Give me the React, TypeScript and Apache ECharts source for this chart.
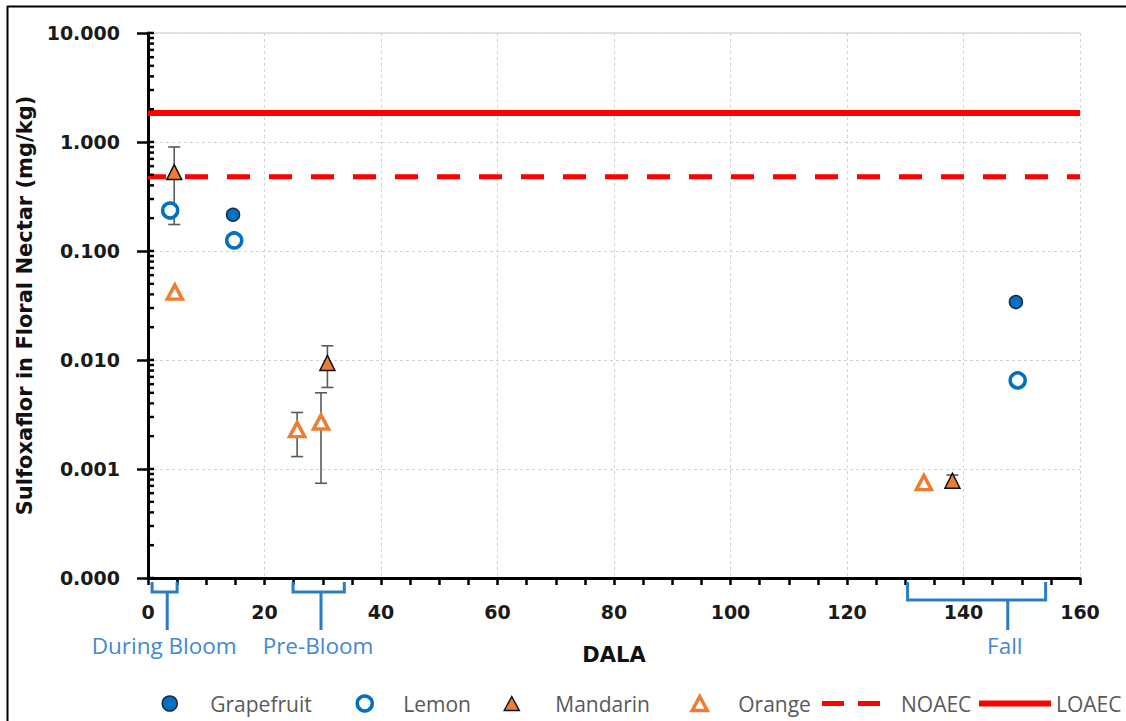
import React, { useEffect, useRef } from "react";
import * as echarts from "echarts";

// ---------- data ----------
const grapefruitX = [14.6, 149.0];
const grapefruitY = [0.215, 0.034];

const lemonX = [3.8, 14.8, 149.3];
const lemonY = [0.235, 0.125, 0.0065];

const mandarinX = [4.5, 30.8, 138.1];
const mandarinY = [0.53, 0.0094, 0.00078];
const mandarinLow = [0.175, 0.0056, 0.00069];
const mandarinHigh = [0.9, 0.0135, 0.00088];

const orangeX = [4.6, 25.6, 29.7, 133.2];
const orangeY = [0.042, 0.0023, 0.0027, 0.00075];
const orangeLow: (number | null)[] = [null, 0.0013, 0.00074, null];
const orangeHigh: (number | null)[] = [null, 0.0033, 0.005, null];

const noaecValue = 0.48;
const loaecValue = 1.85;

const xMin = 0;
const xMax = 160;
const xStep = 20;
const yMin = 0.0001;
const yMax = 10;

// log minor tick positions (decade start × factor)
const decades = [0.0001, 0.001, 0.01, 0.1, 1];
const minorFactors = [1, 2, 3, 4, 5, 6, 7, 8, 9];

// period annotations under the x axis (in DALA units)
const periodLabels = ["During Bloom", "Pre-Bloom", "Fall"];
const periodStart = [0.7, 24.9, 130.4];
const periodStem = [3.3, 29.7, 147.6];
const periodEnd = [5.0, 33.7, 154.1];

// ---------- styles ----------
const bracketDepth = [10, 10, 18];
const BLUE = "#0070C0";
const ORANGE = "#ED7D31";
const RED = "#FF0000";
const GRID = "#d6cfd6";
const BRACKET = "#2a7cc9";
const BRACKET_TEXT = "#3f8ad3";
const LABEL_FONT = "DejaVu Sans";

export default function App() {
  const ref = useRef<HTMLDivElement>(null);

  useEffect(() => {
    if (!ref.current) return;
    const chart = echarts.init(ref.current, undefined, { renderer: "svg" });

    const errData: number[][] = [];
    mandarinX.forEach((x, i) => errData.push([x, mandarinLow[i], mandarinHigh[i]]));
    orangeX.forEach((x, i) => {
      const lo = orangeLow[i];
      const hi = orangeHigh[i];
      if (lo != null && hi != null) errData.push([x, lo, hi]);
    });

    const minorData: number[][] = [];
    decades.forEach((d) => minorFactors.forEach((f) => minorData.push([xMin, d * f])));
    minorData.push([xMin, yMax]);

    const periodData = periodLabels.map((_, i) => [periodStart[i], yMin, periodStem[i], periodEnd[i], i]);

    const mkLegend = (
      name: string,
      left: number,
      width: number,
      height: number,
      padLeft: number,
      extra: any = {}
    ) => ({
      data: [name],
      left,
      top: 693,
      padding: 0,
      itemWidth: width,
      itemHeight: height,
      itemGap: 0,
      textStyle: {
        fontFamily: "Open Sans",
        fontSize: 21,
        color: "#595959",
        padding: [0, 0, 0, padLeft],
      },
      selectedMode: false,
      ...extra,
    });

    const option: any = {
      animation: false,
      backgroundColor: "#ffffff",
      grid: { left: 148, right: 46, top: 33, bottom: 143, containLabel: false },
      legend: [
        mkLegend("Grapefruit", 161.5, 15, 15, 28, {
          itemStyle: { color: BLUE, borderColor: "#1c2b45", borderWidth: 1.5 },
        }),
        mkLegend("Lemon", 355.5, 15, 15, 26, {
          itemStyle: { color: "#ffffff", borderColor: BLUE, borderWidth: 3.5 },
        }),
        mkLegend("Mandarin", 503.5, 15, 14, 31, {
          icon: "triangle",
          itemStyle: { color: ORANGE, borderColor: "#111", borderWidth: 1.5 },
        }),
        mkLegend("Orange", 690.5, 15, 14, 26, {
          icon: "triangle",
          itemStyle: { color: "#ffffff", borderColor: ORANGE, borderWidth: 3.5 },
        }),
        mkLegend("NOAEC", 822, 58, 5, 16, {
          icon: "path://M0,0H22V5H0Z M36,0H58V5H36Z",
          symbolKeepAspect: false,
          itemStyle: { borderWidth: 0, color: RED },
        }),
        mkLegend("LOAEC", 979, 72, 6, 0, {
          icon: "path://M0,0H72V6H0Z",
          symbolKeepAspect: false,
          itemStyle: { borderWidth: 0, color: RED },
        }),
      ],
      graphic: [
        { type: "line", shape: { x1: 7, y1: 6.5, x2: 1126, y2: 6.5 }, style: { stroke: "#000", lineWidth: 2 } },
        { type: "line", shape: { x1: 7.5, y1: 6, x2: 7.5, y2: 721 }, style: { stroke: "#000", lineWidth: 2 } },
      ],
      xAxis: [
        {
          type: "value",
          min: xMin,
          max: xMax,
          interval: xStep,
          name: "DALA",
          nameLocation: "middle",
          nameGap: 66,
          nameTextStyle: { fontFamily: LABEL_FONT, fontWeight: "bold", fontSize: 21, color: "#111" },
          axisLine: { show: true, onZero: false, lineStyle: { color: "#000", width: 3 } },
          axisTick: { show: true, length: 7, lineStyle: { color: "#000", width: 2.5 } },
          minorTick: { show: true, splitNumber: 4, length: 7, lineStyle: { color: "#000", width: 2.5 } },
          axisLabel: { margin: 24, fontFamily: LABEL_FONT, fontWeight: "bold", fontSize: 19, color: "#1a1a1a" },
          splitLine: { show: true, lineStyle: { color: GRID, type: [3, 3], width: 1 } },
        },
        {
          type: "value",
          position: "top",
          min: xMin,
          max: xMax,
          interval: xStep,
          axisLine: { show: true, onZero: false, lineStyle: { color: "#d9d9d9", width: 1.5 } },
          axisTick: { show: false },
          axisLabel: { show: false },
          splitLine: { show: false },
        },
      ],
      yAxis: {
        type: "log",
        logBase: 10,
        min: yMin,
        max: yMax,
        name: "Sulfoxaflor in Floral Nectar (mg/kg)",
        nameLocation: "middle",
        nameGap: 108,
        nameTextStyle: { fontFamily: LABEL_FONT, fontWeight: "bold", fontSize: 21, color: "#111" },
        axisLine: { show: true, onZero: false, lineStyle: { color: "#000", width: 3 } },
        axisTick: { show: true, length: 11, lineStyle: { color: "#000", width: 2.5 } },
        axisLabel: {
          margin: 28,
          fontFamily: LABEL_FONT,
          fontWeight: "bold",
          fontSize: 19,
          color: "#1a1a1a",
          formatter: (v: number) => v.toFixed(3),
        },
        splitLine: { show: true, lineStyle: { color: GRID, type: [3, 3], width: 1 } },
      },
      series: [
        {
          name: "NOAEC",
          type: "line",
          z: 2,
          symbol: "none",
          silent: true,
          data: [
            [xMin, noaecValue],
            [xMax, noaecValue],
          ],
          lineStyle: { color: RED, width: 5, type: [23, 19], dashOffset: 5 },
          itemStyle: { color: RED },
        },
        {
          name: "LOAEC",
          type: "line",
          z: 2,
          symbol: "none",
          silent: true,
          data: [
            [xMin, loaecValue],
            [xMax, loaecValue],
          ],
          lineStyle: { color: RED, width: 6 },
          itemStyle: { color: RED },
        },
        {
          name: "yMinorTicks",
          type: "custom",
          z: 4,
          silent: true,
          clip: false,
          data: minorData,
          encode: { x: 0, y: 1 },
          renderItem: (params: any, api: any) => {
            const p = api.coord([api.value(0), api.value(1)]);
            return {
              type: "line",
              shape: { x1: p[0], y1: p[1], x2: p[0] + 6, y2: p[1] },
              style: { stroke: "#000", lineWidth: 2.5 },
            };
          },
        },
        {
          name: "errorBars",
          type: "custom",
          z: 2,
          silent: true,
          data: errData,
          encode: { x: 0, y: [1, 2] },
          renderItem: (params: any, api: any) => {
            const lo = api.coord([api.value(0), api.value(1)]);
            const hi = api.coord([api.value(0), api.value(2)]);
            const w = 6;
            const st = { stroke: "#5a5a5a", lineWidth: 1.6 };
            return {
              type: "group",
              children: [
                { type: "line", shape: { x1: lo[0], y1: lo[1], x2: hi[0], y2: hi[1] }, style: st },
                { type: "line", shape: { x1: lo[0] - w, y1: lo[1], x2: lo[0] + w, y2: lo[1] }, style: st },
                { type: "line", shape: { x1: hi[0] - w, y1: hi[1], x2: hi[0] + w, y2: hi[1] }, style: st },
              ],
            };
          },
        },
        {
          name: "Grapefruit",
          type: "scatter",
          z: 3,
          symbol: "circle",
          symbolSize: 13,
          data: grapefruitX.map((x, i) => [x, grapefruitY[i]]),
          itemStyle: { color: BLUE, borderColor: "#1c2b45", borderWidth: 1.5, opacity: 1 },
        },
        {
          name: "Lemon",
          type: "scatter",
          z: 3,
          symbol: "circle",
          symbolSize: 15,
          data: lemonX.map((x, i) => [x, lemonY[i]]),
          itemStyle: { color: "#ffffff", borderColor: BLUE, borderWidth: 3.5, opacity: 1 },
        },
        {
          name: "Mandarin",
          type: "scatter",
          z: 3,
          symbol: "triangle",
          symbolSize: [15, 15],
          data: mandarinX.map((x, i) => [x, mandarinY[i]]),
          itemStyle: { color: ORANGE, borderColor: "#111", borderWidth: 1.5, opacity: 1 },
        },
        {
          name: "Orange",
          type: "scatter",
          z: 3,
          symbol: "triangle",
          symbolSize: [15, 14],
          data: orangeX.map((x, i) => [x, orangeY[i]]),
          itemStyle: { color: "#ffffff", borderColor: ORANGE, borderWidth: 3.5, opacity: 1 },
        },
        {
          name: "periods",
          type: "custom",
          z: 5,
          silent: true,
          clip: false,
          data: periodData,
          encode: { x: [0, 2, 3], y: 1 },
          renderItem: (params: any, api: any) => {
            const i = api.value(4);
            const a = api.coord([api.value(0), api.value(1)]);
            const s = api.coord([api.value(2), api.value(1)]);
            const b = api.coord([api.value(3), api.value(1)]);
            const y0 = a[1] + 4;
            const d = bracketDepth[i];
            const st = { stroke: BRACKET, lineWidth: 3, fill: null };
            return {
              type: "group",
              children: [
                {
                  type: "polyline",
                  shape: { points: [[a[0], y0], [a[0], y0 + d], [b[0], y0 + d], [b[0], y0]] },
                  style: st,
                },
                { type: "line", shape: { x1: s[0], y1: y0 + d, x2: s[0], y2: a[1] + 52 }, style: st },
                {
                  type: "text",
                  style: {
                    text: periodLabels[i],
                    x: s[0] - 3,
                    y: a[1] + 56,
                    align: "center",
                    verticalAlign: "top",
                    fill: BRACKET_TEXT,
                    fontFamily: "Open Sans",
                    fontSize: 22.5,
                  },
                },
              ],
            };
          },
        },
      ],
    };

    chart.setOption(option);
    return () => chart.dispose();
  }, []);

  return (
    <div
      ref={ref}
      style={{ position: "fixed", left: 0, top: 0, width: 1126, height: 721, background: "#fff" }}
    />
  );
}
